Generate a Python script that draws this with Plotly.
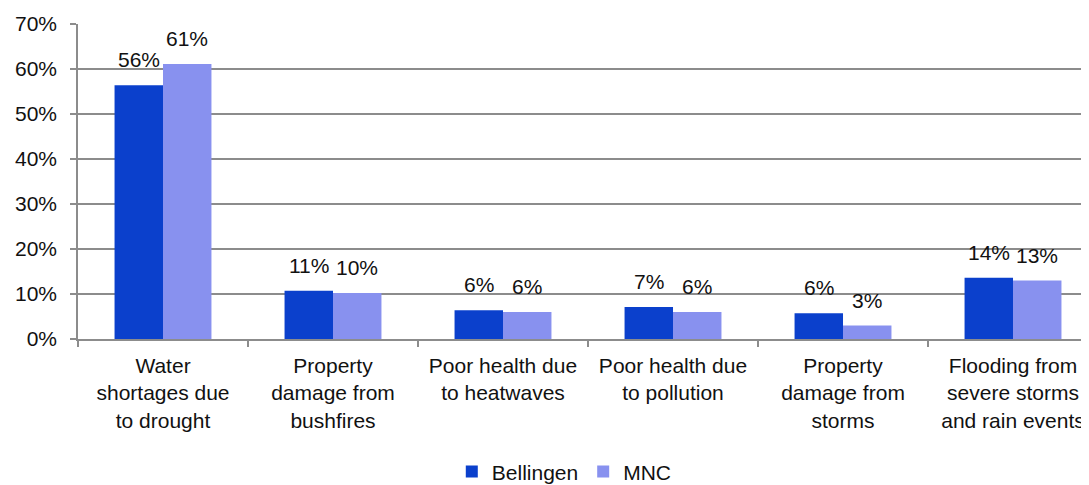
import plotly.graph_objects as go

# Share of respondents concerned about each climate impact
categories = [
    "Water<br>shortages due<br>to drought",
    "Property<br>damage from<br>bushfires",
    "Poor health due<br>to heatwaves",
    "Poor health due<br>to pollution",
    "Property<br>damage from<br>storms",
    "Flooding from<br>severe storms<br>and rain events",
]
bellingen = [0.564, 0.107, 0.064, 0.071, 0.057, 0.136]
mnc = [0.611, 0.102, 0.060, 0.060, 0.030, 0.130]

font = "Liberation Sans, Arial, sans-serif"
blue_dark = "#0b40cc"
blue_light = "#8891ef"
grey = "#8c8c8c"

fig = go.Figure()
fig.add_trace(go.Bar(x=categories, y=bellingen, name="Bellingen",
                     marker=dict(color=blue_dark, line=dict(width=0))))
fig.add_trace(go.Bar(x=categories, y=mnc, name="MNC",
                     marker=dict(color=blue_light, line=dict(width=0))))

# value labels sit a little above each bar
for vals, shift in [(bellingen, -24), (mnc, 24)]:
    for c, v in zip(categories, vals):
        fig.add_annotation(x=c, y=v, text=f"{round(v * 100)}%", showarrow=False,
                           xshift=shift, yshift=12, yanchor="bottom",
                           font=dict(size=21, color="#111"))

fig.update_layout(
    width=1081, height=477,
    margin=dict(l=70, r=0, t=16, b=146, autoexpand=False),
    barmode="group", bargap=0.43, bargroupgap=0,
    plot_bgcolor="white", paper_bgcolor="white",
    font=dict(family=font, size=21, color="#111"),
    legend=dict(orientation="h", x=0.481, xanchor="center",
                y=-0.422, yanchor="middle",
                font=dict(size=21), itemwidth=30),
    xaxis=dict(range=[-0.5, 5.447], tickson="boundaries", ticks="outside",
               ticklen=6, tickcolor=grey, tickwidth=1.5,
               showline=True, linecolor=grey, linewidth=1.5,
               showgrid=False, ticklabelstandoff=7, automargin=False),
    yaxis=dict(range=[0, 0.7], dtick=0.1, tickformat=".0%",
               ticks="outside", ticklen=6, tickcolor=grey, tickwidth=1.5,
               showline=True, linecolor=grey, linewidth=1.5,
               gridcolor=grey, gridwidth=1.5, zeroline=False,
               ticklabelstandoff=9, automargin=False),
)

fig.write_html("out.html")
